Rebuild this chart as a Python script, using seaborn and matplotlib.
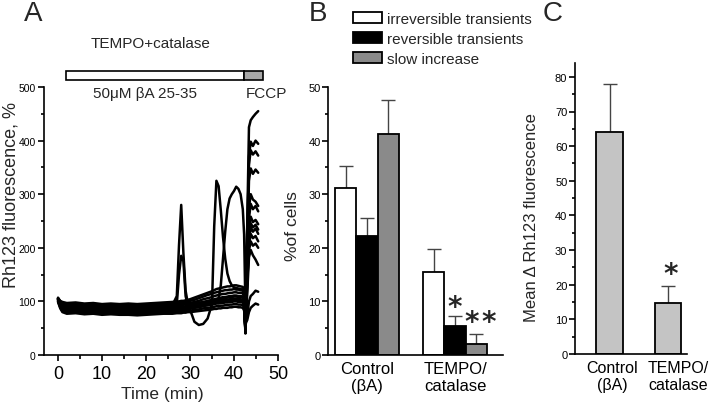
import numpy as np
import pandas as pd
import matplotlib
matplotlib.use("Agg")
import matplotlib.pyplot as plt
import seaborn as sns
from matplotlib.patches import Rectangle
from matplotlib.ticker import MultipleLocator
from matplotlib.transforms import ScaledTranslation

# ---------------- Panel A data: Rh123 traces ----------------
time_min = [0, 0.5, 1, 2, 4, 6, 8, 10, 12, 14,
            16, 18, 20, 22, 24, 26, 27, 27.5, 28, 28.5,
            29, 29.5, 30, 31, 32, 33, 34, 35, 35.5, 36,
            36.5, 37, 37.5, 38, 38.5, 39, 39.5, 40, 40.5, 41,
            41.5, 42, 42.3, 42.6, 43.0, 43.4, 43.8, 44.3, 44.9, 45.5]

trace_01 = [106, 101, 99, 97, 98, 96, 97, 95, 96, 95,
            96, 95, 96, 97, 98, 99, 100, 100, 101, 101,
            102, 103, 104, 107, 110, 113, 116, 119, 121, 123,
            124, 125, 126, 127, 128, 128, 129, 130, 130, 129,
            128, 127, 120, 62, 240, 425, 438, 444, 450, 455]
trace_02 = [105, 99, 96, 94, 95, 93, 94, 92, 93, 92,
            93, 92, 93, 94, 95, 96, 97, 97, 98, 98,
            99, 100, 101, 103, 106, 109, 112, 114, 116, 117,
            118, 119, 120, 121, 121, 122, 122, 123, 122, 122,
            121, 120, 112, 52, 210, 370, 398, 390, 400, 394]
trace_03 = [104, 97, 93, 91, 92, 90, 91, 89, 90, 89,
            89, 88, 89, 90, 91, 92, 93, 93, 94, 94,
            95, 96, 97, 99, 101, 104, 106, 108, 110, 111,
            112, 113, 114, 114, 115, 116, 116, 117, 117, 116,
            116, 115, 108, 46, 185, 325, 348, 338, 346, 340]
trace_04 = [103, 95, 90, 88, 89, 87, 88, 86, 87, 86,
            86, 85, 86, 87, 88, 88, 89, 89, 90, 90,
            91, 92, 93, 95, 97, 99, 101, 103, 104, 105,
            106, 107, 108, 108, 109, 110, 110, 111, 111, 110,
            110, 109, 102, 42, 160, 275, 300, 290, 286, 278]
trace_05 = [102, 93, 87, 85, 86, 84, 85, 83, 84, 83,
            83, 82, 83, 84, 85, 85, 86, 86, 87, 87,
            88, 89, 90, 91, 93, 95, 97, 98, 99, 100,
            101, 102, 102, 103, 103, 104, 104, 105, 105, 104,
            104, 103, 97, 40, 140, 238, 258, 248, 252, 244]
trace_06 = [101, 91, 85, 82, 83, 81, 82, 80, 81, 80,
            80, 79, 80, 81, 82, 82, 83, 83, 84, 84,
            85, 86, 87, 88, 89, 91, 93, 94, 95, 96,
            96, 97, 97, 98, 98, 99, 99, 100, 100, 99,
            99, 98, 92, 45, 130, 205, 226, 218, 222, 212]
trace_07 = [100, 89, 82, 79, 80, 78, 79, 77, 78, 77,
            77, 76, 77, 78, 79, 79, 80, 80, 81, 81,
            82, 82, 83, 84, 85, 87, 88, 89, 90, 91,
            91, 92, 92, 93, 93, 94, 94, 95, 95, 94,
            94, 93, 88, 50, 115, 182, 196, 186, 178, 168]
trace_08 = [99, 87, 80, 77, 78, 76, 77, 75, 76, 75,
            75, 74, 75, 76, 77, 77, 78, 78, 78, 79,
            79, 80, 80, 81, 82, 83, 84, 85, 86, 86,
            87, 87, 88, 88, 88, 89, 89, 90, 90, 89,
            89, 88, 83, 55, 72, 100, 110, 114, 120, 118]
trace_09 = [107, 100, 97, 95, 96, 94, 95, 93, 94, 93,
            93, 92, 93, 93, 94, 94, 95, 95, 95, 96,
            96, 96, 97, 97, 98, 98, 99, 99, 99, 100,
            100, 100, 100, 101, 101, 101, 101, 102, 102, 101,
            101, 100, 95, 60, 65, 80, 88, 92, 96, 94]
trace_10 = [105, 98, 94, 92, 93, 91, 92, 90, 91, 90,
            90, 89, 90, 91, 92, 93, 110, 205, 280, 190,
            120, 96, 94, 95, 96, 97, 98, 99, 100, 100,
            101, 101, 102, 102, 103, 103, 104, 104, 104, 104,
            103, 102, 96, 50, 170, 215, 238, 230, 236, 226]
trace_11 = [104, 96, 91, 89, 90, 88, 89, 87, 88, 87,
            87, 86, 87, 88, 89, 90, 95, 150, 185, 175,
            110, 92, 92, 93, 94, 95, 96, 97, 98, 98,
            99, 99, 100, 100, 101, 101, 102, 102, 102, 101,
            101, 100, 94, 45, 140, 195, 212, 204, 208, 200]
trace_12 = [105, 97, 92, 90, 91, 89, 90, 88, 89, 88,
            88, 87, 88, 89, 90, 90, 91, 91, 91, 91,
            90, 88, 85, 62, 56, 58, 68, 95, 240, 325,
            315, 270, 220, 180, 152, 138, 130, 126, 125, 124,
            123, 122, 110, 48, 160, 255, 282, 272, 278, 268]
trace_13 = [105, 96, 89, 84, 85, 83, 84, 82, 83, 82,
            82, 81, 82, 83, 84, 84, 85, 85, 86, 86,
            87, 87, 88, 89, 90, 92, 93, 95, 96, 97,
            105, 130, 180, 230, 272, 292, 300, 306, 314, 310,
            300, 272, 225, 85, 230, 355, 382, 374, 380, 372]
trace_14 = [104, 96, 90, 86, 87, 85, 86, 84, 85, 84,
            84, 83, 84, 85, 86, 86, 87, 87, 88, 88,
            89, 89, 90, 92, 94, 96, 98, 100, 101, 102,
            103, 104, 105, 106, 107, 108, 108, 109, 109, 108,
            108, 107, 100, 44, 150, 228, 246, 238, 243, 234]

traces = [trace_01, trace_02, trace_03, trace_04, trace_05, trace_06, trace_07,
          trace_08, trace_09, trace_10, trace_11, trace_12, trace_13, trace_14]

a_xticks = [0, 10, 20, 30, 40, 50]
a_yticks = [0, 100, 200, 300, 400, 500]

# ---------------- Panel B data ----------------
groups = ["Control\n(\u03b2A)", "TEMPO/\ncatalase"]
response_types = ["irreversible transients", "reversible transients", "slow increase"]
irreversible_pct = [31.2, 15.4]
reversible_pct = [22.2, 5.4]
slow_pct = [41.3, 2.0]
irreversible_err = [4.1, 4.3]
reversible_err = [3.4, 1.9]
slow_err = [6.3, 1.9]
b_yticks = [0, 10, 20, 30, 40, 50]

# ---------------- Panel C data ----------------
mean_delta = [64.2, 14.8]
mean_delta_err = [13.8, 4.9]
c_yticks = [0, 10, 20, 30, 40, 50, 60, 70, 80]

# ---------------- style ----------------
sns.set_theme(style="ticks")
plt.rcParams["font.family"] = ["Liberation Sans", "DejaVu Sans"]
plt.rcParams["axes.linewidth"] = 1.2
plt.rcParams["xtick.major.width"] = 1.2
plt.rcParams["ytick.major.width"] = 1.2
plt.rcParams["xtick.minor.width"] = 1.2
plt.rcParams["ytick.minor.width"] = 1.2
plt.rcParams["xtick.color"] = "black"
plt.rcParams["ytick.color"] = "black"
plt.rcParams["axes.edgecolor"] = "black"

W, H = 720, 406
fig = plt.figure(figsize=(7.2, 4.06), dpi=100)

def px_axes(left, top, right, bottom):
    return fig.add_axes([left / W, 1 - bottom / H, (right - left) / W, (bottom - top) / H])

axA = px_axes(43.5, 88, 278, 356)
axB = px_axes(328.3, 88, 503, 356)
axC = px_axes(575, 64, 687, 355)

# ---------------- Panel A ----------------
rows = []
for k, tr in enumerate(traces):
    for t, v in zip(time_min, tr):
        rows.append((k, t, v))
df_a = pd.DataFrame(rows, columns=["trace", "time", "value"])
sns.lineplot(data=df_a, x="time", y="value", units="trace", estimator=None,
             color="black", linewidth=1.8, sort=False, legend=False, ax=axA)
axA.set_xlim(-3.3, 50)
axA.set_ylim(0, 500)
axA.set_xticks(a_xticks)
axA.set_yticks(a_yticks)
axA.xaxis.set_minor_locator(MultipleLocator(5))
axA.yaxis.set_minor_locator(MultipleLocator(50))
axA.tick_params(axis="x", which="major", length=4, labelsize=13, pad=3)
axA.tick_params(axis="x", which="minor", length=3)
axA.tick_params(axis="y", which="major", length=4, labelsize=7.5, pad=1.5)
axA.tick_params(axis="y", which="minor", length=2.5)
axA.set_xlabel("Time (min)", fontsize=12.5)
axA.set_ylabel("Rh123 fluorescence, %", fontsize=13)
axA.xaxis.set_label_coords(0.507, -0.116)
axA.yaxis.set_label_coords(-0.102, 0.60)
sns.despine(ax=axA)

axA.add_patch(Rectangle((1.75, 513), 42.3 - 1.75, 17, facecolor="white",
                        edgecolor="black", linewidth=1.2, clip_on=False))
axA.add_patch(Rectangle((42.3, 513), 46.7 - 42.3, 17, facecolor="#a8a8a8",
                        edgecolor="black", linewidth=1.2, clip_on=False))
axA.text(21.1, 582, "TEMPO+catalase", ha="center", va="center", fontsize=11, clip_on=False)
axA.text(19.7, 489, "50\u03bcM \u03b2A 25-35", ha="center", va="center", fontsize=11)
axA.text(47.4, 489, "FCCP", ha="center", va="center", fontsize=11, clip_on=False)

# ---------------- Panel B ----------------
df_b = pd.DataFrame({
    "group": groups * 3,
    "type": [response_types[0]] * 2 + [response_types[1]] * 2 + [response_types[2]] * 2,
    "pct": irreversible_pct + reversible_pct + slow_pct,
})
sns.barplot(data=df_b, x="group", y="pct", hue="type", order=groups,
            hue_order=response_types, palette=["white", "black", "#8a8a8a"],
            saturation=1, edgecolor="black", linewidth=1.3, width=0.72,
            errorbar=None, legend=False, ax=axB)
bar_containers_b = list(axB.containers)
for cont, errs in zip(bar_containers_b, [irreversible_err, reversible_err, slow_err]):
    for bar, e in zip(cont.patches, errs):
        xc = bar.get_x() + bar.get_width() / 2
        axB.errorbar(xc, bar.get_height(), yerr=[[0], [e]], color="#444444",
                     elinewidth=1.0, capsize=5, capthick=1.0, zorder=0.5)
axB.set_xlim(-0.44, 1.545)
axB.set_ylim(0, 50)
axB.set_yticks(b_yticks)
axB.yaxis.set_minor_locator(MultipleLocator(5))
axB.tick_params(axis="x", length=0, labelsize=12, pad=4)
axB.tick_params(axis="y", which="major", length=4, labelsize=8, pad=1.5)
axB.tick_params(axis="y", which="minor", length=2.5)
axB.set_xlabel("")
axB.set_ylabel("%of cells", fontsize=12.5)
axB.yaxis.set_label_coords(-0.162, 0.485)
sns.despine(ax=axB)

handles = [c.patches[0] for c in bar_containers_b]
fig.legend(handles, response_types, loc="upper left", bbox_to_anchor=(353 / W, 1 - 13 / H),
           frameon=False, fontsize=11, handlelength=1.9, handleheight=0.75,
           handletextpad=0.35, labelspacing=0.4, borderpad=0, borderaxespad=0)

axB.text(1.0, 11.5, "*", ha="center", va="top", fontsize=20, fontweight="bold",
         family="DejaVu Sans")
axB.text(1.19, 8.7, "*", ha="center", va="top", fontsize=20, fontweight="bold",
         family="DejaVu Sans")
axB.text(1.385, 8.7, "*", ha="center", va="top", fontsize=20, fontweight="bold",
         family="DejaVu Sans")

# ---------------- Panel C ----------------
df_c = pd.DataFrame({"group": groups, "delta": mean_delta})
sns.barplot(data=df_c, x="group", y="delta", order=groups, color="#c4c4c4",
            saturation=1, edgecolor="black", linewidth=1.3, width=0.45,
            errorbar=None, ax=axC)
bar_container_c = axC.containers[0]
for bar, e in zip(bar_container_c.patches, mean_delta_err):
    xc = bar.get_x() + bar.get_width() / 2
    axC.errorbar(xc, bar.get_height(), yerr=[[0], [e]], color="#444444",
                 elinewidth=1.0, capsize=5, capthick=1.0, zorder=0.5)
axC.set_xlim(-0.59, 1.32)
axC.set_ylim(0, 84)
axC.set_yticks(c_yticks)
axC.yaxis.set_minor_locator(MultipleLocator(5))
axC.tick_params(axis="x", length=0, labelsize=11.5, pad=4)
axC.tick_params(axis="y", which="major", length=4, labelsize=8, pad=1.5)
axC.tick_params(axis="y", which="minor", length=2.5)
axC.set_xlabel("")
axC.set_ylabel("Mean \u0394 Rh123 fluorescence", fontsize=12)
axC.yaxis.set_label_coords(-0.32, 0.474)
sns.despine(ax=axC)
# shift category labels slightly right, as in the reference
for lbl, dx_px in zip(axC.get_xticklabels(), [2.5, 10]):
    lbl.set_transform(lbl.get_transform() + ScaledTranslation(dx_px / 100, 0, fig.dpi_scale_trans))
axC.text(1.05, 27.0, "*", ha="center", va="top", fontsize=20, fontweight="bold",
         family="DejaVu Sans")

# ---------------- panel letters ----------------
for lab, xp in [("A", 33), ("B", 318), ("C", 553)]:
    fig.text(xp / W, 1 - 14 / H, lab, ha="center", va="center", fontsize=20)

fig.savefig("out.png", dpi=100)
